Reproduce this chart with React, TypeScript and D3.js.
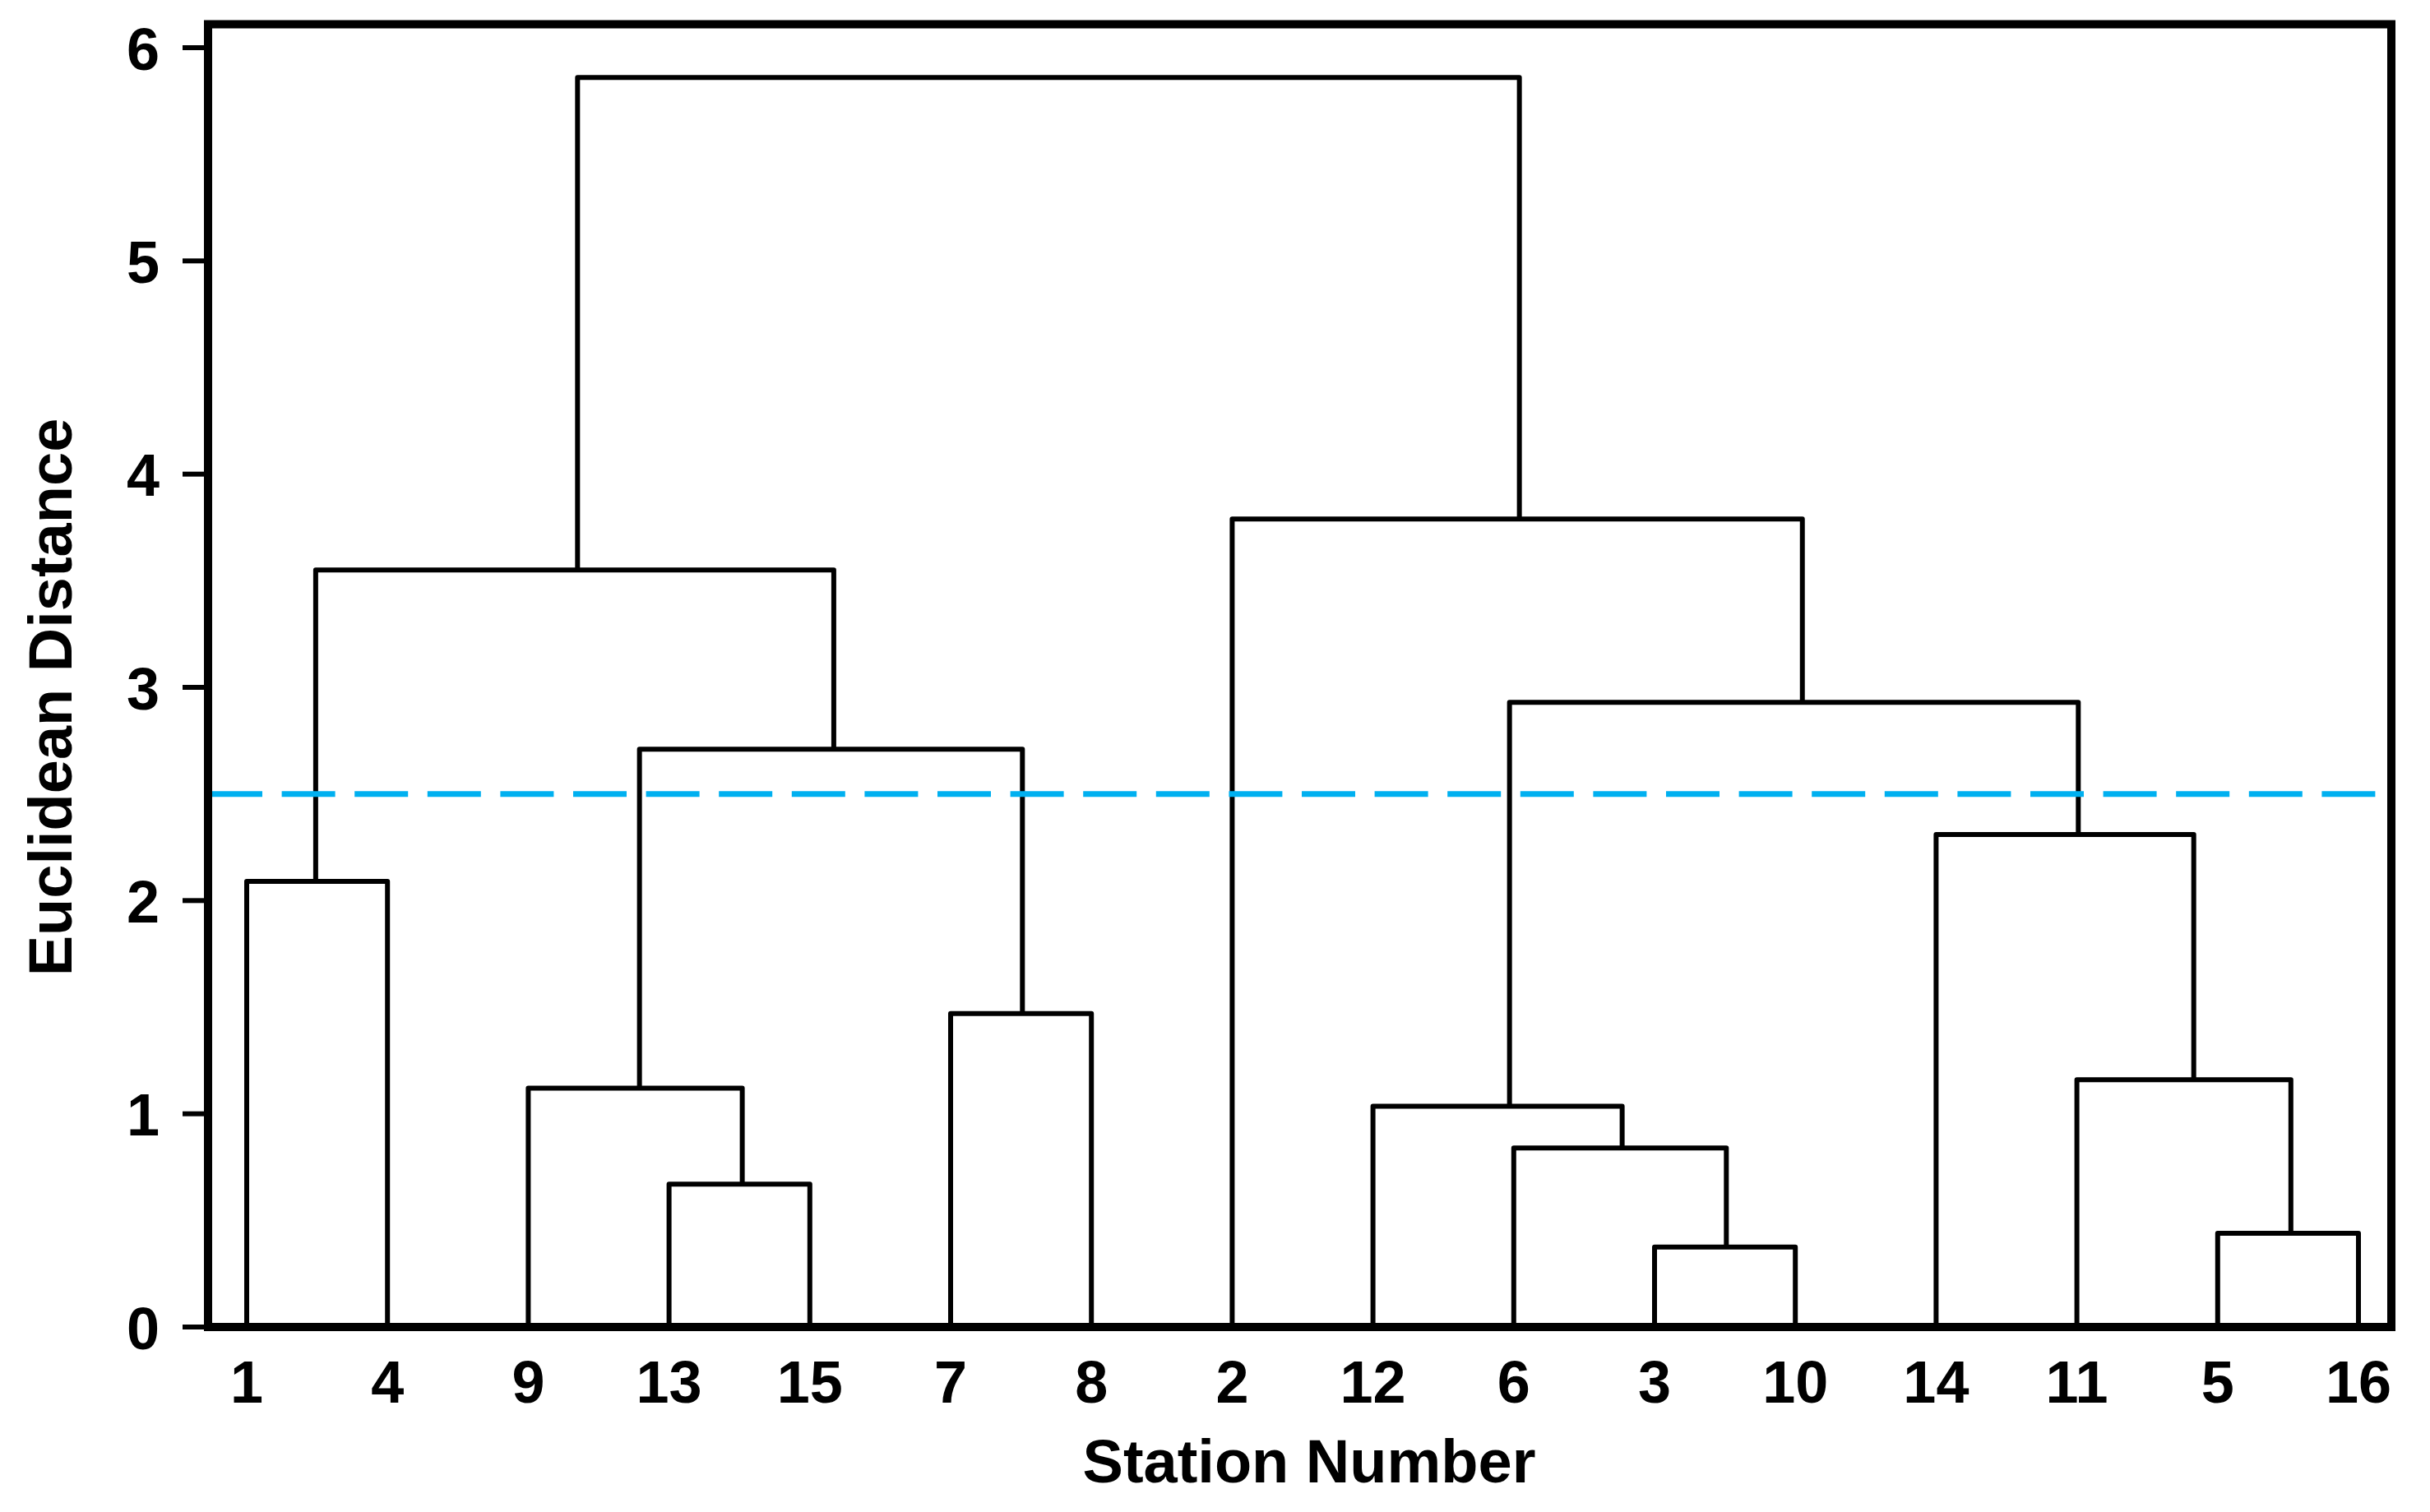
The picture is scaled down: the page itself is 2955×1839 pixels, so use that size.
import React from "react";
import * as d3 from "d3";

// Leaf order along the x axis (station numbers)
const leafOrder: string[] = ["1", "4", "9", "13", "15", "7", "8", "2", "12", "6", "3", "10", "14", "11", "5", "16"];

// Agglomerative merges: id, left child, right child, Euclidean distance
const mergeIds: string[] = ["A", "B", "C", "D", "E", "F", "G", "H", "I", "J", "K", "L", "M", "N", "O"];
const mergeLeft: string[] = ["1", "13", "9", "7", "C", "A", "3", "6", "12", "5", "11", "14", "I", "2", "F"];
const mergeRight: string[] = ["4", "15", "B", "8", "D", "E", "10", "G", "H", "16", "J", "K", "L", "M", "N"];
const mergeHeights: number[] = [2.09, 0.67, 1.12, 1.47, 2.71, 3.55, 0.375, 0.84, 1.035, 0.44, 1.16, 2.31, 2.93, 3.79, 5.86];
// Horizontal position of each merge node (in leaf-index units)
const mergeX: number[] = [0.49, 3.52, 2.79, 5.51, 4.17, 2.35, 10.51, 9.77, 8.97, 14.52, 13.83, 13.01, 11.05, 9.04, 5.7];

const yTicks: number[] = [0, 1, 2, 3, 4, 5, 6];
const cutoff = 2.5;
const xTitle = "Station Number";
const yTitle = "Euclidean Distance";

const W = 2955;
const H = 1839;
const frame = { left: 253, right: 2908, top: 29.5, bottom: 1614 };
const FONT = "'Liberation Sans', Arial, Helvetica, sans-serif";

export default function App() {
  const x = d3.scalePoint<string>().domain(leafOrder).range([300, 2868]).padding(0);
  const xi = d3.scaleLinear().domain([0, leafOrder.length - 1]).range([300, 2868]);
  const y = d3.scaleLinear().domain([0, 6]).range([frame.bottom, 58]);

  const pos: Record<string, { x: number; h: number }> = {};
  leafOrder.forEach((l) => {
    pos[l] = { x: x(l) as number, h: 0 };
  });
  const links: string[] = [];
  mergeIds.forEach((id, i) => {
    const L = pos[mergeLeft[i]];
    const R = pos[mergeRight[i]];
    const h = mergeHeights[i];
    pos[id] = { x: xi(mergeX[i]), h };
    const p = d3.path();
    p.moveTo(L.x, y(L.h));
    p.lineTo(L.x, y(h));
    p.lineTo(R.x, y(h));
    p.lineTo(R.x, y(R.h));
    links.push(p.toString());
  });

  return (
    <svg
      width={W}
      height={H}
      viewBox={`0 0 ${W} ${H}`}
      style={{ position: "absolute", left: 0, top: 0, background: "#fff" }}
    >
      <rect x={0} y={0} width={W} height={H} fill="#fff" />
      <g fill="none" stroke="#000" strokeWidth={6} strokeLinejoin="round">
        {links.map((d, i) => (
          <path key={i} d={d} />
        ))}
      </g>
      <line
        x1={frame.left + 1}
        x2={frame.right - 5}
        y1={y(cutoff)}
        y2={y(cutoff)}
        stroke="#00B0F0"
        strokeWidth={7}
        strokeDasharray="65 23.6"
      />
      <rect
        x={frame.left}
        y={frame.top}
        width={frame.right - frame.left}
        height={frame.bottom - frame.top}
        fill="none"
        stroke="#000"
        strokeWidth={10}
      />
      <g>
        {yTicks.map((t) => (
          <g key={t}>
            <line x1={222} x2={frame.left} y1={y(t)} y2={y(t)} stroke="#000" strokeWidth={6} />
            <text
              x={194}
              y={y(t)}
              dy="0.37em"
              textAnchor="end"
              fontFamily={FONT}
              fontWeight="bold"
              fontSize={72}
              fill="#000"
            >
              {t}
            </text>
          </g>
        ))}
      </g>
      <g>
        {leafOrder.map((l) => (
          <text
            key={l}
            x={x(l) as number}
            y={1706}
            textAnchor="middle"
            fontFamily={FONT}
            fontWeight="bold"
            fontSize={72}
            fill="#000"
          >
            {l}
          </text>
        ))}
      </g>
      <text
        x={1592}
        y={1803}
        textAnchor="middle"
        fontFamily={FONT}
        fontWeight="bold"
        fontSize={74}
        fill="#000"
      >
        {xTitle}
      </text>
      <text
        transform={`translate(87, 848) rotate(-90)`}
        textAnchor="middle"
        fontFamily={FONT}
        fontWeight="bold"
        fontSize={74}
        fill="#000"
      >
        {yTitle}
      </text>
    </svg>
  );
}
